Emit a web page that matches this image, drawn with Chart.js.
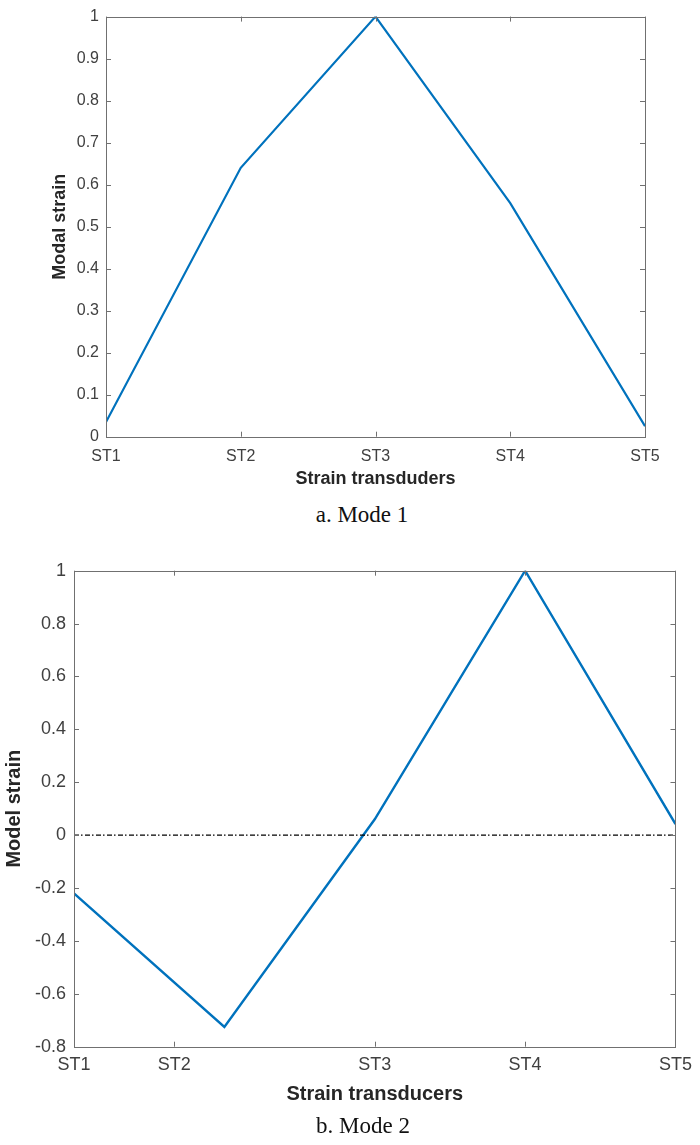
<!DOCTYPE html>
<html>
<head>
<meta charset="utf-8">
<script src="https://cdn.jsdelivr.net/npm/chart.js@4"></script>
<style>
  body { margin: 0; background: #fff; width: 700px; height: 1145px; position: relative; overflow: hidden; }
  .box { position: absolute; left: 0; width: 700px; }
  .caption { position: absolute; width: 700px; text-align: center; font-family: "Liberation Serif", "Times New Roman", serif; font-size: 23px; color: #111; }
</style>
</head>
<body>
<div class="box" style="top:0;height:500px"><canvas id="mode1"></canvas></div>
<div class="caption" style="top:502px;left:12px">a. Mode 1</div>
<div class="box" style="top:540px;height:575px"><canvas id="mode2"></canvas></div>
<div class="caption" style="top:1113px;left:13px">b. Mode 2</div>
<script>
// mode 1
const mode1X = [1, 2, 3, 4, 5];
const mode1Strain = [0.035, 0.64, 1.0, 0.556, 0.025];
const mode1TickPos = [1, 2, 3, 4, 5];
const mode1TickLabels = ["ST1", "ST2", "ST3", "ST4", "ST5"];

// mode 2
const mode2X = [1, 2, 3, 4, 5];
const mode2Strain = [-0.22, -0.725, 0.06, 1.0, 0.042];
const mode2TickPos = [1, 1.667, 3, 4, 5];
const mode2TickLabels = ["ST1", "ST2", "ST3", "ST4", "ST5"];
const zeroX = [1, 5];
const zeroY = [0, 0];

const blue = "#0072BD";
const axisGray = "#707070";
const tickColor = "#404040";

// matlab style box with inward ticks
const boxPlugin = {
  id: "matlabBox",
  afterDraw(chart) {
    const { ctx, chartArea: a, scales } = chart;
    ctx.save();
    ctx.strokeStyle = axisGray;
    ctx.lineWidth = 1;
    ctx.strokeRect(Math.round(a.left) + 0.5, Math.round(a.top) + 0.5, Math.round(a.right - a.left), Math.round(a.bottom - a.top));
    ctx.beginPath();
    const len = 5;
    scales.x.ticks.forEach(t => {
      const px = Math.round(scales.x.getPixelForValue(t.value)) + 0.5;
      ctx.moveTo(px, a.bottom); ctx.lineTo(px, a.bottom - len);
      ctx.moveTo(px, a.top); ctx.lineTo(px, a.top + len);
    });
    scales.y.ticks.forEach(t => {
      const py = Math.round(scales.y.getPixelForValue(t.value)) + 0.5;
      ctx.moveTo(a.left, py); ctx.lineTo(a.left + len, py);
      ctx.moveTo(a.right, py); ctx.lineTo(a.right - len, py);
    });
    ctx.stroke();
    ctx.restore();
  }
};

function pts(xs, ys) {
  return xs.map((x, i) => ({ x: x, y: ys[i] }));
}

function makeChart(id, cfg) {
  return new Chart(document.getElementById(id), {
    type: "line",
    data: { datasets: cfg.datasets },
    options: {
      responsive: true,
      maintainAspectRatio: false,
      animation: false,
      events: [],
      layout: { padding: { top: cfg.padTop, right: cfg.padRight, left: 0, bottom: 0 } },
      plugins: { legend: { display: false }, tooltip: { enabled: false } },
      elements: { point: { radius: 0 }, line: { tension: 0 } },
      scales: {
        x: {
          type: "linear",
          min: 1, max: 5,
          grid: { display: false, drawTicks: false },
          border: { display: false },
          afterBuildTicks: s => { s.ticks = cfg.tickPos.map(v => ({ value: v })); },
          afterFit: s => { s.height = cfg.xHeight; },
          ticks: {
            autoSkip: false, maxRotation: 0, padding: cfg.xTickPad,
            color: tickColor,
            font: { family: "Liberation Sans, Arial, sans-serif", size: cfg.tickSize },
            callback: (v, i) => cfg.tickLabels[i]
          },
          title: {
            display: true, text: cfg.xTitle, color: "#262626",
            font: { family: "Liberation Sans, Arial, sans-serif", size: cfg.titleSize, weight: "bold" },
            padding: { top: 0, bottom: cfg.xTitlePad }
          }
        },
        y: {
          min: cfg.yMin, max: cfg.yMax,
          grid: { display: false, drawTicks: false },
          border: { display: false },
          afterFit: s => { s.width = cfg.yWidth; },
          ticks: {
            stepSize: cfg.yStep, padding: cfg.yTickPad, color: tickColor,
            font: { family: "Liberation Sans, Arial, sans-serif", size: cfg.tickSize },
            callback: v => String(+v.toFixed(2))
          },
          title: {
            display: true, text: cfg.yTitle, color: "#262626",
            font: { family: "Liberation Sans, Arial, sans-serif", size: cfg.titleSize, weight: "bold" },
            padding: { top: cfg.yTitlePad, bottom: 0 }
          }
        }
      }
    },
    plugins: [boxPlugin]
  });
}

makeChart("mode1", {
  datasets: [{ data: pts(mode1X, mode1Strain), borderColor: blue, borderWidth: 2.2 }],
  tickPos: mode1TickPos, tickLabels: mode1TickLabels,
  yMin: 0, yMax: 1, yStep: 0.1,
  padTop: 12, padRight: 55,
  xHeight: 63.3, yWidth: 106,
  tickSize: 16, titleSize: 18,
  xTickPad: 10, yTickPad: 7, xTitlePad: 9.8, yTitlePad: 49,
  xTitle: "Strain transduders", yTitle: "Modal strain"
});

makeChart("mode2", {
  datasets: [
    { data: pts(zeroX, zeroY), borderColor: "#000", borderWidth: 1.3, borderDash: [5, 2, 1.5, 2.5] },
    { data: pts(mode2X, mode2Strain), borderColor: blue, borderWidth: 2.4 }
  ],
  tickPos: mode2TickPos, tickLabels: mode2TickLabels,
  yMin: -0.8, yMax: 1, yStep: 0.2,
  padTop: 30.7, padRight: 20.7,
  xHeight: 68.3, yWidth: 74,
  tickSize: 18, titleSize: 20,
  xTickPad: 8, yTickPad: 8, xTitlePad: 8.3, yTitlePad: 2.5,
  xTitle: "Strain transducers", yTitle: "Model strain"
});
</script>
</body>
</html>
